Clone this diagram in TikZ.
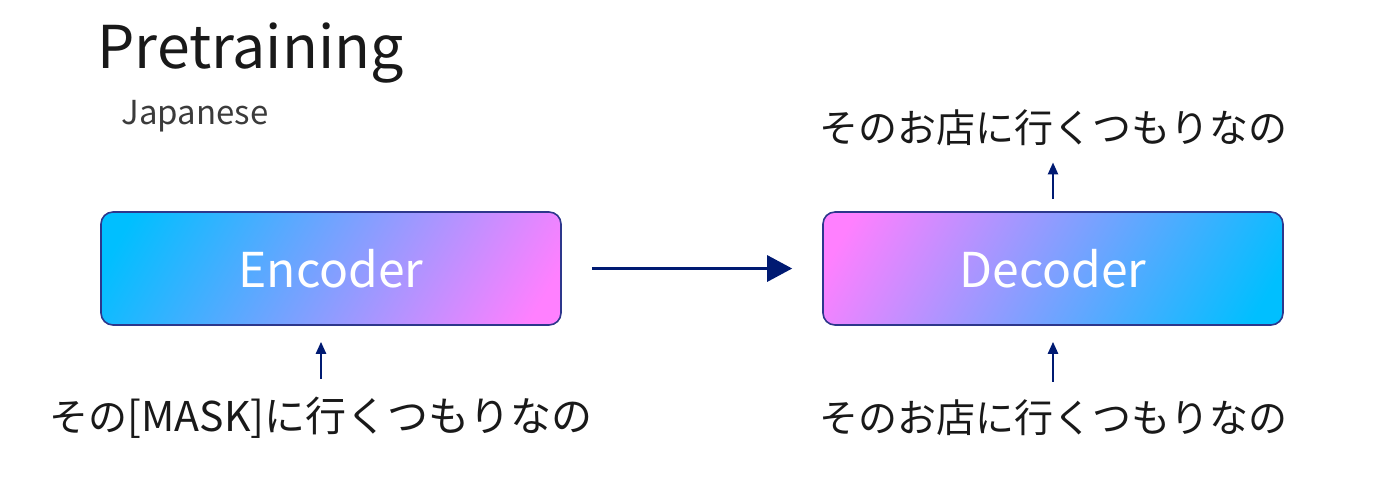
\documentclass[tikz,border=0pt]{standalone}
\usepackage{fontspec}
\setmainfont{Noto Sans CJK JP}
\usetikzlibrary{arrows.meta}

\definecolor{skyc}{RGB}{0,191,255}
\definecolor{pinkc}{RGB}{255,128,255}
\definecolor{edgec}{RGB}{45,55,140}
\definecolor{navyc}{RGB}{0,26,114}
\definecolor{inkc}{RGB}{25,25,25}

\pgfdeclarehorizontalshading{skytopink}{100bp}{color(0bp)=(skyc); color(20bp)=(skyc); color(80bp)=(pinkc); color(100bp)=(pinkc)}
\pgfdeclarehorizontalshading{pinktosky}{100bp}{color(0bp)=(pinkc); color(20bp)=(pinkc); color(80bp)=(skyc); color(100bp)=(skyc)}

\tikzset{
  coder/.style={draw=edgec, line width=0.8pt, rounded corners=6pt,
    minimum width=230pt, minimum height=56.5pt, text=white,
    font=\fontsize{24}{24}\selectfont},
  sent/.style={inner sep=0pt, text=inkc, font=\fontsize{19.5}{20}\selectfont},
  upar/.style={navyc, line width=1.2pt, -{Triangle[length=6pt,width=5pt]}},
}

\begin{document}
\begin{tikzpicture}[x=0.5pt,y=0.5pt,yscale=-1]
\useasboundingbox (0,0) rectangle (1382,479);

% Text Node
\node [anchor=base west, inner sep=0pt, text=inkc, font=\fontsize{29.5}{30}\selectfont] (title) at (97,68) {Pretraining};
% Text Node
\node [anchor=base west, inner sep=0pt, text=inkc!85, font=\fontsize{16.5}{17}\selectfont] (lang) at (121,124) {Japanese};

%Shape: Rectangle
\node [coder, shading=skytopink, shading angle=-30] (enc) at (331,268.5) {Encoder};
%Shape: Rectangle
\node [coder, shading=pinktosky, shading angle=-30] (dec) at (1053,268.5) {Decoder};

% Text Node
\node [sent] (encin) at (321,418) {その\fontsize{20.5}{20}\selectfont[MASK]に行くつもりなの};
% Text Node
\node [sent] (decin) at (1053,418) {そのお店に行くつもりなの};
% Text Node
\node [sent] (decout) at (1053,128) {そのお店に行くつもりなの};

\draw [upar, shorten <=9pt, shorten >=8pt] (encin.north) -- (encin.north |- enc.south);
\draw [upar, shorten <=9pt, shorten >=8pt] (decin.north) -- (dec.south);
\draw [upar, shorten <=6pt, shorten >=8pt] (dec.north) -- (decout.south);
\draw [navyc, line width=1.5pt, -{Triangle[length=12.5pt,width=13pt]}, shorten <=15pt, shorten >=15pt] (enc.east) -- (dec.west);

\end{tikzpicture}
\end{document}
